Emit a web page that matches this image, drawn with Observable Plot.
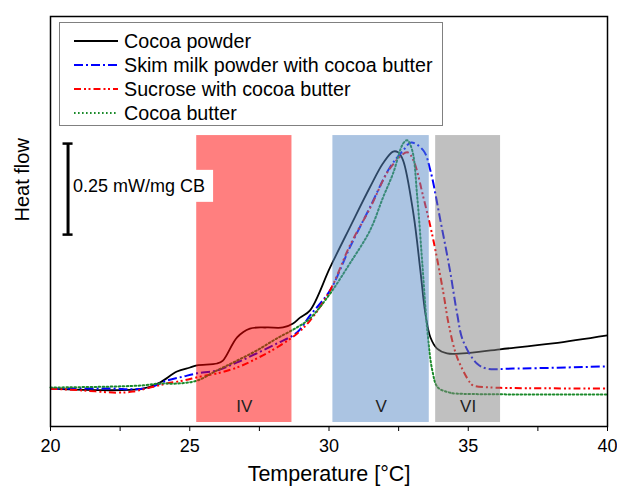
<!DOCTYPE html>
<html><head><meta charset="utf-8">
<script src="https://cdn.jsdelivr.net/npm/d3@7"></script>
<script src="https://cdn.jsdelivr.net/npm/@observablehq/plot@0.6"></script>
<style>
body{margin:0;background:#fff;}
#wrap{position:relative;width:617px;height:492px;font-family:"Liberation Sans",Arial,sans-serif;}
#legend{position:absolute;left:59px;top:22px;width:384px;height:104px;border:1px solid #808080;background:#fff;box-sizing:border-box;}
.row{position:absolute;left:13px;height:24px;display:flex;align-items:center;font-size:19.7px;color:#000;white-space:nowrap;}
.row svg{margin-right:5px;}
</style></head><body><div id="wrap"></div>
<script>
// Series: temperature (°C) and heat flow (mW/mg CB, arbitrary offset)
const cocoaPowderT  = [20.0,23.32,23.93,24.54,25.01,25.26,25.98,26.19,26.70,27.16,27.77,28.35,28.71,28.96,29.32,30.04,30.75,31.47,31.94,32.30,32.48,32.66,33.03,33.28,33.46,33.64,33.88,34.24,34.81,36.14,38.04,40.0];
const cocoaPowderHF = [0.104,0.104,0.121,0.151,0.162,0.168,0.173,0.181,0.245,0.269,0.272,0.272,0.283,0.299,0.319,0.437,0.547,0.657,0.723,0.755,0.753,0.731,0.585,0.429,0.310,0.245,0.214,0.201,0.201,0.212,0.228,0.250];

const skimMilkT  = [20.0,22.39,22.75,23.57,24.18,24.76,25.26,25.98,26.70,27.41,28.13,28.85,29.32,30.04,30.75,31.47,32.19,32.66,32.95,33.39,33.64,34.0,34.34,34.6,34.81,35.31,35.67,36.61,40.0];
const skimMilkHF = [0.104,0.104,0.102,0.107,0.126,0.137,0.146,0.154,0.176,0.201,0.228,0.258,0.305,0.374,0.492,0.602,0.712,0.758,0.780,0.758,0.703,0.566,0.430,0.310,0.236,0.173,0.159,0.159,0.165];

const sucroseT  = [20.0,21.17,22.39,22.96,23.57,24.18,24.76,25.37,25.98,26.70,27.41,28.13,28.85,29.32,30.04,30.75,31.47,32.19,32.81,33.03,33.39,33.75,34.1,34.3,34.6,35.06,35.17,35.89,36.25,40.0];
const sucroseHF = [0.104,0.099,0.093,0.096,0.107,0.118,0.126,0.137,0.146,0.162,0.187,0.217,0.255,0.291,0.374,0.497,0.599,0.709,0.753,0.731,0.629,0.511,0.370,0.280,0.190,0.121,0.113,0.107,0.106,0.104];

const cocoaButterT  = [20.0,22.39,23.32,23.93,24.54,25.26,25.98,26.70,27.41,28.13,28.85,29.32,30.04,30.75,31.47,31.94,32.30,32.66,32.81,32.99,33.17,33.35,33.53,33.71,33.91,34.34,34.45,40.0];
const cocoaButterHF = [0.107,0.110,0.113,0.118,0.118,0.126,0.154,0.181,0.209,0.242,0.272,0.297,0.365,0.448,0.538,0.629,0.695,0.777,0.786,0.758,0.629,0.448,0.264,0.154,0.107,0.093,0.091,0.088];

const seriesNames  = ["Cocoa powder","Skim milk powder with cocoa butter","Sucrose with cocoa butter","Cocoa butter"];
const seriesColors = ["#000000","#0000ff","#ff0000","#1a8a2a"];
const seriesDashes = ["none","9,3,2,3","7,3,2,2.5,2,3","1.6,2.4"];
const seriesWidths = [1.8,2,2,2];

// Polymorph regions
const regionNames  = ["IV","V","VI"];
const regionStart  = [25.25,30.14,33.83];
const regionEnd    = [28.67,33.60,36.16];
const regionColors = ["#ff0000","#5789c5","#818181"];

const xTicks = [20,25,30,35,40];
const xMinorTicks = [22.5,27.5,32.5,37.5];
const scaleLabel = "0.25 mW/mg CB";
const scaleSize = 0.25;

const seriesT = [cocoaPowderT, skimMilkT, sucroseT, cocoaButterT];
const seriesHF = [cocoaPowderHF, skimMilkHF, sucroseHF, cocoaButterHF];

const font = '"Liberation Sans", Arial, sans-serif';
const regionY1 = 0.011, regionY2 = 0.799, regionLabelY = 0.055;
const barX = 20.63, barY1 = 0.527;

const lineMarks = seriesNames.map((name, i) => {
  const rows = seriesT[i].map((t, j) => ({t, hf: seriesHF[i][j]}));
  return Plot.line(rows, {x: "t", y: "hf", stroke: seriesColors[i], strokeWidth: seriesWidths[i],
    strokeDasharray: seriesDashes[i], curve: "catmull-rom", strokeLinecap: i === 3 ? "round" : "butt"});
});

const regions = regionNames.map((n, i) => ({name: n, x1: regionStart[i], x2: regionEnd[i], color: regionColors[i]}));

const chart = Plot.plot({
  width: 617, height: 492,
  marginLeft: 50, marginRight: 10, marginTop: 16, marginBottom: 66,
  style: {fontFamily: font, background: "#fff", color: "#000"},
  x: {domain: [20, 40]},
  y: {domain: [0, 1.126], axis: null},
  marks: [
    ...lineMarks,
    Plot.rect(regions, {x1: "x1", x2: "x2", y1: regionY1, y2: regionY2, fill: d => d.color, fillOpacity: 0.5}),
    Plot.text(regions, {x: d => (d.x1 + d.x2) / 2, y: regionLabelY, text: "name", fontSize: 17, fill: "#222"}),
    Plot.ruleX([barX], {y1: barY1, y2: barY1 + scaleSize, stroke: "#000", strokeWidth: 3}),
    Plot.ruleY([barY1, barY1 + scaleSize], {x1: barX - 0.18, x2: barX + 0.18, stroke: "#000", strokeWidth: 2.5}),
    Plot.text([scaleLabel], {x: barX, y: barY1 + scaleSize / 2, dx: 5, dy: -3, textAnchor: "start", fontSize: 18, fill: "#000"}),
    Plot.frame({stroke: "#000", strokeWidth: 1.5}),
    Plot.axisX({ticks: xTicks, tickSize: 5, tickPadding: 8, fontSize: 18, label: null, stroke: "#000"}),
    Plot.axisX({ticks: xMinorTicks, tickSize: 5, tickFormat: () => "", label: null, stroke: "#000"}),
    Plot.text(["Temperature [°C]"], {frameAnchor: "bottom", dy: 54, fontSize: 21.5, fill: "#000"}),
    Plot.text(["Heat flow"], {frameAnchor: "left", dx: -28, rotate: -90, fontSize: 20, fill: "#000"})
  ]
});

const wrap = document.getElementById("wrap");
wrap.appendChild(chart);

// white background box behind the scale label
const lbl = Array.from(chart.querySelectorAll("text")).find(t => t.textContent === scaleLabel);
if (lbl) {
  const bb = lbl.getBBox();
  const r = document.createElementNS("http://www.w3.org/2000/svg", "rect");
  r.setAttribute("x", bb.x - 2); r.setAttribute("y", bb.y - 6);
  r.setAttribute("width", bb.width + 10); r.setAttribute("height", bb.height + 12);
  r.setAttribute("fill", "#fff");
  const g = lbl.parentNode;
  const ctm = lbl.getAttribute("transform");
  if (ctm) r.setAttribute("transform", ctm);
  g.insertBefore(r, lbl);
}

// legend
const legend = document.createElement("div");
legend.id = "legend";
seriesNames.forEach((name, i) => {
  const row = document.createElement("div");
  row.className = "row";
  row.style.top = (6 + i * 24) + "px";
  row.innerHTML = `<svg width="46" height="10"><line x1="1" x2="45" y1="5" y2="5" stroke="${seriesColors[i]}" stroke-width="2" stroke-dasharray="${seriesDashes[i]}"></line></svg><span>${name}</span>`;
  legend.appendChild(row);
});
wrap.appendChild(legend);
</script></body></html>
